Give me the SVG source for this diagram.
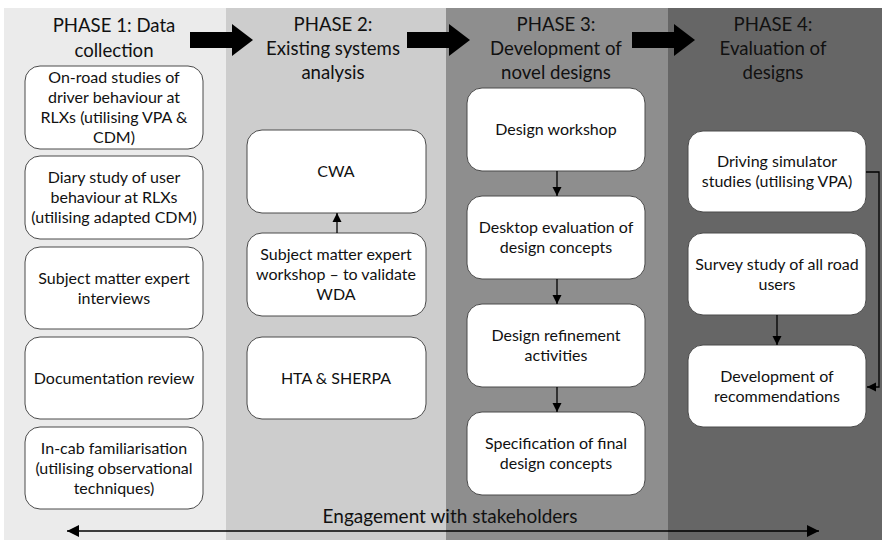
<svg xmlns="http://www.w3.org/2000/svg" width="882" height="540" viewBox="0 0 882 540">
  <style>
    .band1 { fill: #ebebeb; }
    .band2 { fill: #cdcdcd; }
    .band3 { fill: #8e8e8e; }
    .band4 { fill: #666666; }
    .box { fill: #ffffff; stroke: #4a4a4a; stroke-width: 1; }
    .head { font-family: Lato, "Open Sans", sans-serif; font-size: 18.6px; fill: #111111; text-anchor: middle; }
    .lbl { font-family: Lato, "Open Sans", sans-serif; font-size: 16px; fill: #111111; text-anchor: middle; }
    .foot { font-family: Lato, "Open Sans", sans-serif; font-size: 19px; fill: #111111; text-anchor: middle; }
    .conn { fill: none; stroke: #000000; stroke-width: 1.3; }
  </style>
  <defs>
    <marker id="tip" viewBox="0 0 10 10" refX="10" refY="5" markerUnits="userSpaceOnUse" markerWidth="9" markerHeight="10" orient="auto-start-reverse">
      <path d="M0,0 L10,5 L0,10 z" fill="#000000"/>
    </marker>
    <marker id="tipBig" viewBox="0 0 10 10" refX="10" refY="5" markerUnits="userSpaceOnUse" markerWidth="14" markerHeight="12" orient="auto-start-reverse">
      <path d="M0,0 L10,5 L0,10 z" fill="#000000"/>
    </marker>
    <path id="phaseArrow" d="M0,32 H42 V24 L63,40 L42,56 V48 H0 z" fill="#000000"/>
  </defs>

  <!-- phase bands -->
  <g id="bands">
    <rect class="band1" x="4" y="8" width="222" height="532"/>
    <rect class="band2" x="226" y="8" width="220" height="532"/>
    <rect class="band3" x="446" y="8" width="222" height="532"/>
    <rect class="band4" x="668" y="8" width="214" height="532"/>
  </g>

  <!-- phase headings -->
  <g id="headings">
    <text class="head" x="114" y="32">PHASE 1: Data</text>
    <text class="head" x="114" y="57">collection</text>
    <text class="head" x="333" y="31">PHASE 2:</text>
    <text class="head" x="333" y="55">Existing systems</text>
    <text class="head" x="333" y="79">analysis</text>
    <text class="head" x="556" y="31">PHASE 3:</text>
    <text class="head" x="556" y="55">Development of</text>
    <text class="head" x="556" y="79">novel designs</text>
    <text class="head" x="773" y="31">PHASE 4:</text>
    <text class="head" x="773" y="55">Evaluation of</text>
    <text class="head" x="773" y="79">designs</text>
  </g>

  <!-- arrows between phases -->
  <g id="phase-arrows">
    <use href="#phaseArrow" x="190"/>
    <use href="#phaseArrow" x="407"/>
    <use href="#phaseArrow" x="632"/>
  </g>

  <!-- Phase 1 nodes -->
  <g id="p1-onroad">
    <rect class="box" x="25" y="66" width="178" height="83" rx="15"/>
    <text class="lbl" x="114" y="83">On-road studies of</text>
    <text class="lbl" x="114" y="103">driver behaviour at</text>
    <text class="lbl" x="114" y="123">RLXs (utilising VPA &amp;</text>
    <text class="lbl" x="114" y="143">CDM)</text>
  </g>
  <g id="p1-diary">
    <rect class="box" x="25" y="156" width="178" height="83" rx="15"/>
    <text class="lbl" x="114" y="183">Diary study of user</text>
    <text class="lbl" x="114" y="203">behaviour at RLXs</text>
    <text class="lbl" x="114" y="223">(utilising adapted CDM)</text>
  </g>
  <g id="p1-sme">
    <rect class="box" x="25" y="247" width="178" height="82" rx="15"/>
    <text class="lbl" x="114" y="284">Subject matter expert</text>
    <text class="lbl" x="114" y="304">interviews</text>
  </g>
  <g id="p1-docs">
    <rect class="box" x="25" y="337" width="178" height="82" rx="15"/>
    <text class="lbl" x="114" y="384">Documentation review</text>
  </g>
  <g id="p1-incab">
    <rect class="box" x="25" y="427" width="178" height="82" rx="15"/>
    <text class="lbl" x="114" y="454">In-cab familiarisation</text>
    <text class="lbl" x="114" y="474">(utilising observational</text>
    <text class="lbl" x="114" y="494">techniques)</text>
  </g>

  <!-- Phase 2 nodes -->
  <g id="p2-cwa">
    <rect class="box" x="247" y="130" width="179" height="83" rx="15"/>
    <text class="lbl" x="336" y="177">CWA</text>
  </g>
  <g id="p2-sme">
    <rect class="box" x="247" y="233" width="179" height="83" rx="15"/>
    <text class="lbl" x="336" y="260">Subject matter expert</text>
    <text class="lbl" x="336" y="280">workshop – to validate</text>
    <text class="lbl" x="336" y="300">WDA</text>
  </g>
  <g id="p2-hta">
    <rect class="box" x="247" y="337" width="179" height="82" rx="15"/>
    <text class="lbl" x="336" y="384">HTA &amp; SHERPA</text>
  </g>

  <!-- Phase 3 nodes -->
  <g id="p3-workshop">
    <rect class="box" x="467" y="88" width="178" height="83" rx="15"/>
    <text class="lbl" x="556" y="135">Design workshop</text>
  </g>
  <g id="p3-desktop">
    <rect class="box" x="467" y="196" width="178" height="83" rx="15"/>
    <text class="lbl" x="556" y="233">Desktop evaluation of</text>
    <text class="lbl" x="556" y="253">design concepts</text>
  </g>
  <g id="p3-refine">
    <rect class="box" x="467" y="304" width="178" height="83" rx="15"/>
    <text class="lbl" x="556" y="341">Design refinement</text>
    <text class="lbl" x="556" y="361">activities</text>
  </g>
  <g id="p3-spec">
    <rect class="box" x="467" y="412" width="178" height="83" rx="15"/>
    <text class="lbl" x="556" y="449">Specification of final</text>
    <text class="lbl" x="556" y="469">design concepts</text>
  </g>

  <!-- Phase 4 nodes -->
  <g id="p4-sim">
    <rect class="box" x="688" y="131" width="178" height="81" rx="15"/>
    <text class="lbl" x="777" y="167">Driving simulator</text>
    <text class="lbl" x="777" y="187">studies (utilising VPA)</text>
  </g>
  <g id="p4-survey">
    <rect class="box" x="688" y="233" width="178" height="82" rx="15"/>
    <text class="lbl" x="777" y="270">Survey study of all road</text>
    <text class="lbl" x="777" y="290">users</text>
  </g>
  <g id="p4-recs">
    <rect class="box" x="688" y="345" width="178" height="82" rx="15"/>
    <text class="lbl" x="777" y="382">Development of</text>
    <text class="lbl" x="777" y="402">recommendations</text>
  </g>

  <!-- connectors -->
  <g id="connectors">
    <line class="conn" x1="337" y1="233" x2="337" y2="213" marker-end="url(#tip)"/>
    <line class="conn" x1="557" y1="171" x2="557" y2="196" marker-end="url(#tip)"/>
    <line class="conn" x1="557" y1="279" x2="557" y2="304" marker-end="url(#tip)"/>
    <line class="conn" x1="557" y1="387" x2="557" y2="412" marker-end="url(#tip)"/>
    <line class="conn" x1="777" y1="315" x2="777" y2="345" marker-end="url(#tip)"/>
    <path class="conn" d="M866,172 H879 V387 H867" marker-end="url(#tip)"/>
    <line class="conn" x1="67" y1="531" x2="819" y2="531" marker-start="url(#tipBig)" marker-end="url(#tipBig)"/>
  </g>

  <text class="foot" x="450" y="523">Engagement with stakeholders</text>
</svg>
